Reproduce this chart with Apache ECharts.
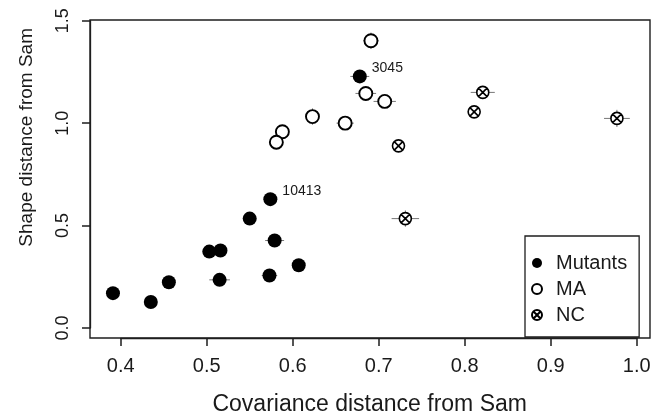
<!DOCTYPE html>
<html>
<head>
<meta charset="utf-8">
<script src="https://cdn.jsdelivr.net/npm/echarts@6/dist/echarts.min.js"></script>
<style>html,body{margin:0;padding:0;background:#fff}#c{width:663px;height:413px}</style>
</head>
<body>
<div id="c"></div>
<script>
// ---- data ----
const mutantsX = [0.391, 0.435, 0.456, 0.503, 0.516, 0.515, 0.550, 0.574, 0.579, 0.573, 0.607, 0.678];
const mutantsY = [0.170, 0.127, 0.223, 0.373, 0.378, 0.235, 0.534, 0.629, 0.427, 0.256, 0.306, 1.228];
const mutantsXErr = [0, 0, 0, 0, 0, 0.012, 0, 0.008, 0.011, 0.009, 0, 0.011];
const mutantsYErr = [0, 0, 0, 0, 0, 0, 0, 0, 0, 0, 0, 0];
const mutantsLabels = ['', '', '', '', '', '', '', '10413', '', '', '', '3045'];

const maX = [0.691, 0.685, 0.707, 0.623, 0.661, 0.588, 0.581];
const maY = [1.402, 1.145, 1.106, 1.032, 1.000, 0.958, 0.907];
const maXErr = [0.009, 0.012, 0.013, 0.006, 0.010, 0.006, 0.006];
const maYErr = [0.040, 0, 0, 0.040, 0, 0, 0];

const ncX = [0.821, 0.811, 0.977, 0.723, 0.731];
const ncY = [1.150, 1.055, 1.023, 0.889, 0.534];
const ncXErr = [0.014, 0.006, 0.015, 0.006, 0.016];
const ncYErr = [0, 0, 0.042, 0, 0.040];

const xRange = [0.4, 1.0];   // first / last tick
const xStep = 0.1;
const yRange = [0.0, 1.5];
const yStep = 0.5;
const xTitle = 'Covariance distance from Sam';
const yTitle = 'Shape distance from Sam';
const seriesNames = ['Mutants', 'MA', 'NC'];

// ---- build ----
const FONT = '"Liberation Sans", Arial, sans-serif';
const TXT = '#1a1a1a';
const LINE = '#1e1e1e';
const ncPath = 'path://M10,0 A10,10 0 1,1 10,20 A10,10 0 1,1 10,0 Z M2.93,2.93 L17.07,17.07 M17.07,2.93 L2.93,17.07';

function pts(xs, ys, labels) {
  return xs.map((x, i) => {
    const d = { value: [x, ys[i]] };
    if (labels && labels[i]) {
      d.label = { show: true, formatter: labels[i] };
    }
    return d;
  });
}
function errs(xs, ys, xe, ye) {
  return xs.map((x, i) => [x, ys[i], xe[i], ye[i]]);
}
const errData = [].concat(
  errs(mutantsX, mutantsY, mutantsXErr, mutantsYErr),
  errs(maX, maY, maXErr, maYErr),
  errs(ncX, ncY, ncXErr, ncYErr)
);

const chart = echarts.init(document.getElementById('c'), null, { renderer: 'canvas' });
chart.setOption({
  animation: false,
  backgroundColor: '#fff',
  textStyle: { fontFamily: FONT },
  grid: [
    { // data region: first tick to last tick
      left: 120.7, top: 20.7, right: 26.3, bottom: 85,
      containLabel: false, outerBoundsMode: 'none', show: false
    },
    { // plot box
      left: 90, top: 20, right: 13, bottom: 75,
      containLabel: false, outerBoundsMode: 'none',
      show: true, borderColor: LINE, borderWidth: 1.4, backgroundColor: 'transparent'
    }
  ],
  xAxis: [
    {
      gridIndex: 0, type: 'value', min: xRange[0], max: xRange[1], interval: xStep,
      position: 'bottom', offset: 10,
      name: xTitle, nameLocation: 'middle', nameGap: 55,
      nameTextStyle: { fontSize: 23, color: TXT, fontFamily: FONT, padding: [0, 18, 0, 0] },
      axisLine: { show: true, onZero: false, lineStyle: { color: LINE, width: 1.3 } },
      splitLine: { show: false },
      axisTick: { show: true, inside: false, length: 8, lineStyle: { color: LINE, width: 1.5 } },
      axisLabel: { fontSize: 20, color: TXT, margin: 18, fontFamily: FONT, showMinLabel: true, showMaxLabel: true,
        formatter: v => v.toFixed(1) }
    },
    { gridIndex: 1, type: 'value', min: 0, max: 1, show: false }
  ],
  yAxis: [
    {
      gridIndex: 0, type: 'value', min: yRange[0], max: yRange[1], interval: yStep,
      position: 'left', offset: 30.7,
      name: yTitle, nameLocation: 'middle', nameGap: 54, nameRotate: 90,
      nameTextStyle: { fontSize: 19, color: TXT, fontFamily: FONT, padding: [0, 0, 0, 74] },
      axisLine: { show: true, onZero: false, lineStyle: { color: LINE, width: 1.3 } },
      splitLine: { show: false },
      axisTick: { show: true, inside: false, length: 8, lineStyle: { color: LINE, width: 1.5 } },
      axisLabel: { fontSize: 18, color: TXT, margin: 18, rotate: 90, fontFamily: FONT, showMinLabel: true, showMaxLabel: true,
        formatter: v => v.toFixed(1) }
    },
    { gridIndex: 1, type: 'value', min: 0, max: 1, show: false }
  ],
  legend: {
    orient: 'vertical', left: 525, top: 236,
    data: seriesNames,
    itemWidth: 28, itemHeight: 10, itemGap: 6,
    padding: [17, 12, 12, 6],
    borderColor: LINE, borderWidth: 1.3, backgroundColor: '#fff',
    textStyle: { fontSize: 20, color: TXT, fontFamily: FONT, lineHeight: 20, padding: [0, 0, 0, 0] }
  },
  series: [
    {
      type: 'custom', name: 'err', silent: true, z: 1, clip: false,
      xAxisIndex: 0, yAxisIndex: 0,
      data: errData,
      renderItem: function (params, api) {
        const x = api.value(0), y = api.value(1), xe = api.value(2), ye = api.value(3);
        const children = [];
        if (xe > 0) {
          const a = api.coord([x - xe, y]), b = api.coord([x + xe, y]);
          children.push({ type: 'line', shape: { x1: a[0], y1: a[1], x2: b[0], y2: b[1] }, style: { stroke: '#777', lineWidth: 1 } });
        }
        if (ye > 0) {
          const a = api.coord([x, y - ye]), b = api.coord([x, y + ye]);
          children.push({ type: 'line', shape: { x1: a[0], y1: a[1], x2: b[0], y2: b[1] }, style: { stroke: '#777', lineWidth: 1 } });
        }
        return { type: 'group', children: children };
      }
    },
    {
      type: 'scatter', name: 'Mutants', z: 3, clip: false,
      xAxisIndex: 0, yAxisIndex: 0,
      symbol: 'circle', symbolSize: 14,
      itemStyle: { color: '#000', borderColor: '#000', borderWidth: 0, opacity: 1 },
      label: { show: false, position: 'right', distance: 5, offset: [0, -8], fontSize: 14, color: TXT, fontFamily: FONT },
      data: pts(mutantsX, mutantsY, mutantsLabels)
    },
    {
      type: 'scatter', name: 'MA', z: 3, clip: false,
      xAxisIndex: 0, yAxisIndex: 0,
      symbol: 'circle', symbolSize: 13,
      itemStyle: { color: '#fff', borderColor: '#000', borderWidth: 1.9, opacity: 1 },
      data: pts(maX, maY)
    },
    {
      type: 'scatter', name: 'NC', z: 3, clip: false,
      xAxisIndex: 0, yAxisIndex: 0,
      symbol: ncPath, symbolSize: 12,
      itemStyle: { color: '#fff', borderColor: '#000', borderWidth: 1.6, opacity: 1 },
      data: pts(ncX, ncY)
    }
  ]
});
</script>
</body>
</html>
